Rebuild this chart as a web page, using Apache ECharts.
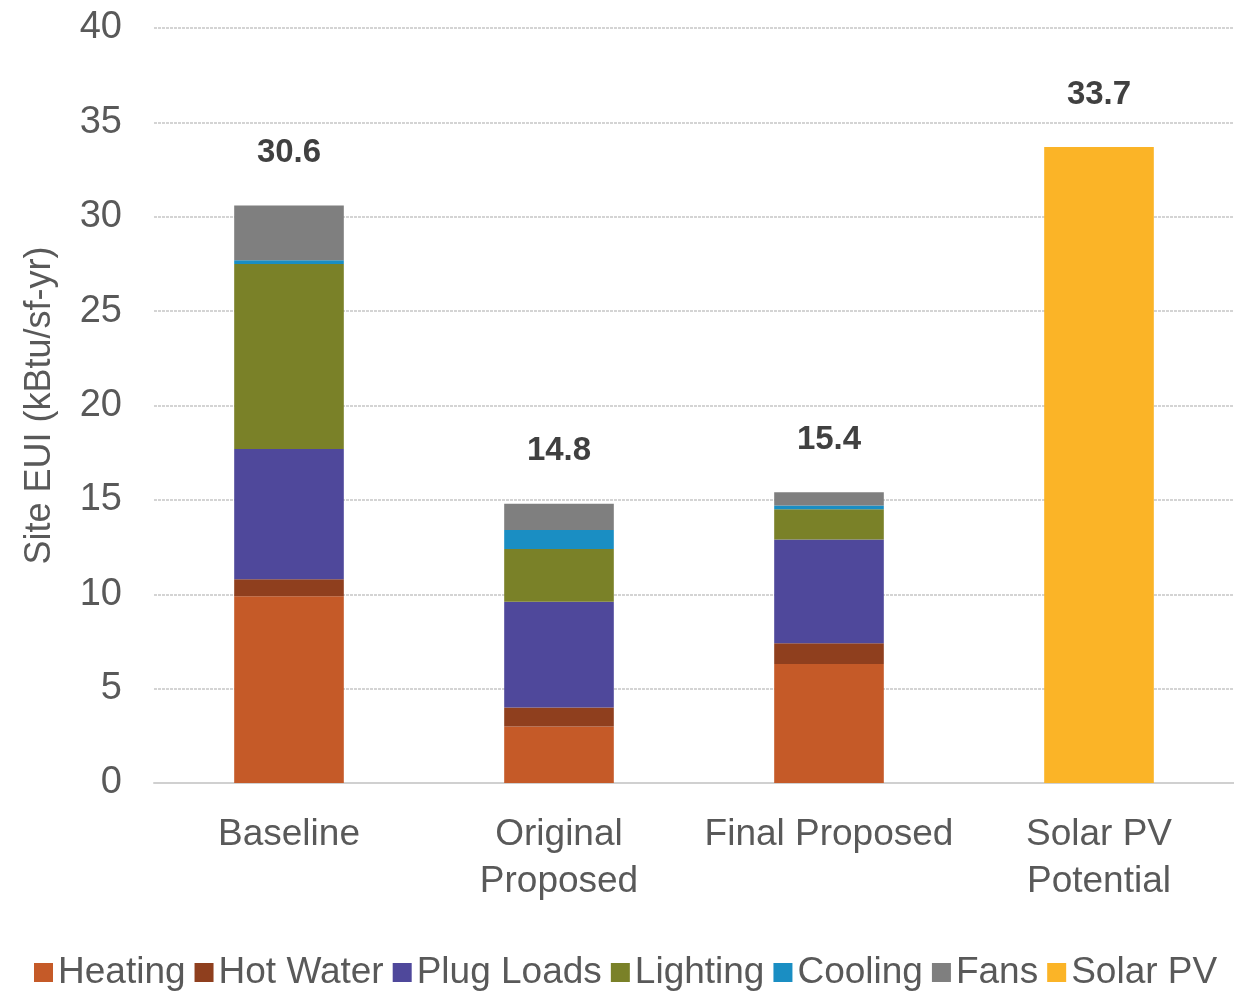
<!DOCTYPE html>
<html>
<head>
<meta charset="utf-8">
<script src="https://cdn.jsdelivr.net/npm/echarts@6/dist/echarts.min.js"></script>
<style>
  html, body { margin: 0; padding: 0; background: #fff; }
  #chart { width: 1234px; height: 996px; }
</style>
</head>
<body>
<div id="chart"></div>
<script>
const categories = ['Baseline', 'Original\nProposed', 'Final Proposed', 'Solar PV\nPotential'];
const heating   = [9.9, 3.0, 6.3, '-'];
const hotWater  = [0.9, 1.0, 1.1, '-'];
const plugLoads = [6.9, 5.6, 5.5, '-'];
const lighting  = [9.8, 2.8, 1.6, '-'];
const cooling   = [0.2, 1.0, 0.2, '-'];
const fans      = [2.9, 1.4, 0.7, '-'];
const solarPV   = ['-', '-', '-', 33.7];
const totals    = [30.6, 14.8, 15.4, 33.7];
const yTicks    = [0, 5, 10, 15, 20, 25, 30, 35, 40];

const font = '"Liberation Sans Narrow", "Arial Narrow", "Liberation Sans", sans-serif';
const txt = '#595959';

const contenedor = document.getElementById('chart');
const grafico = echarts.init(contenedor, null, { renderer: 'canvas' });

function barSerie(name, data, color, withTotal) {
  const s = {
    name: name,
    type: 'bar',
    stack: 'eui',
    data: data,
    barWidth: '40.6%',
    itemStyle: { color: color },
    emphasis: { disabled: true }
  };
  if (withTotal) {
    s.label = {
      show: true,
      position: 'top',
      distance: 36,
      fontFamily: font,
      fontWeight: 'bold',
      fontSize: 33,
      color: '#404040',
      formatter: p => totals[p.dataIndex].toFixed(1)
    };
  }
  return s;
}

const option = {
  animation: false,
  grid: { left: 154, right: 0, top: 28, bottom: 213 },
  legend: {
    bottom: 5,
    left: 34,
    width: 1200,
    padding: 0,
    itemWidth: 19,
    itemHeight: 19,
    itemGap: 9,
    icon: 'rect',
    textStyle: { fontFamily: font, fontSize: 37, color: txt, padding: [0, 0, 0, 0] },
    data: ['Heating', 'Hot Water', 'Plug Loads', 'Lighting', 'Cooling', 'Fans', 'Solar PV']
  },
  xAxis: {
    type: 'category',
    data: categories,
    axisTick: { show: false },
    axisLine: { lineStyle: { color: '#d0d0d0', width: 2 } },
    axisLabel: {
      interval: 0,
      fontFamily: font,
      fontSize: 37,
      color: txt,
      lineHeight: 47,
      margin: 28
    }
  },
  yAxis: {
    type: 'value',
    min: yTicks[0],
    max: yTicks[yTicks.length - 1],
    interval: 5,
    name: 'Site EUI (kBtu/sf-yr)',
    nameLocation: 'middle',
    nameGap: 96,
    nameTextStyle: { fontFamily: font, fontSize: 36, color: txt },
    axisLine: { show: false },
    axisTick: { show: false },
    splitLine: { lineStyle: { color: '#d4d4d4', width: 2, type: [3, 1] } },
    axisLabel: { fontFamily: font, fontSize: 38, color: txt, margin: 32 }
  },
  series: [
    barSerie('Heating', heating, '#C55A28'),
    barSerie('Hot Water', hotWater, '#8F3F1E'),
    barSerie('Plug Loads', plugLoads, '#4F489B'),
    barSerie('Lighting', lighting, '#7A8128'),
    barSerie('Cooling', cooling, '#1A8EC3'),
    barSerie('Fans', fans, '#7F7F7F', true),
    barSerie('Solar PV', solarPV, '#FBB427', true)
  ]
};

grafico.setOption(option);
</script>
</body>
</html>
